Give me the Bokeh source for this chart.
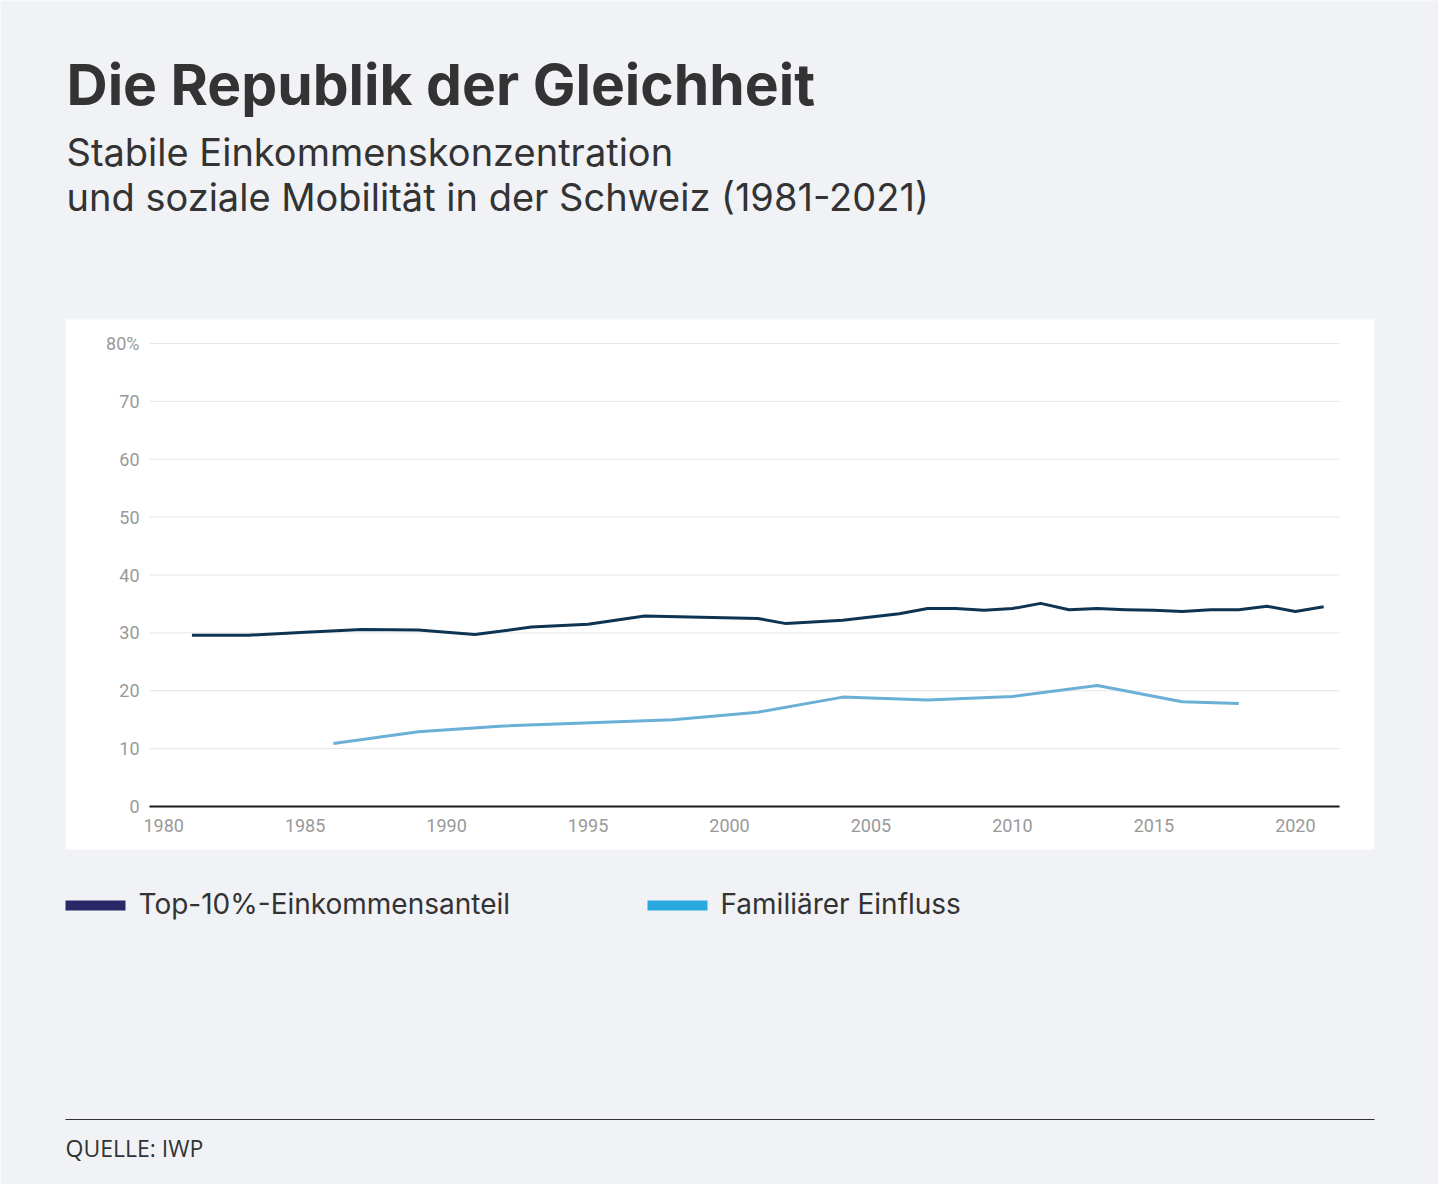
from bokeh.plotting import figure
from bokeh.models import Label, BoxAnnotation, FixedTicker, Range1d, LinearAxis
from bokeh.embed import file_html
from bokeh.resources import INLINE

# ---- data ----
top_years = [1981, 1983, 1985, 1987, 1989, 1991, 1993, 1995, 1997, 2001, 2002, 2004,
             2006, 2007, 2008, 2009, 2010, 2011, 2012, 2013, 2014, 2015, 2016, 2017,
             2018, 2019, 2020, 2021]
top10_share = [29.6, 29.6, 30.1, 30.6, 30.5, 29.7, 31.0, 31.5, 32.9, 32.5, 31.6, 32.2,
               33.3, 34.2, 34.2, 33.9, 34.2, 35.1, 34.0, 34.2, 34.0, 33.9, 33.7, 34.0,
               34.0, 34.6, 33.7, 34.5]
fam_years = [1986, 1989, 1992, 1998, 2001, 2004, 2007, 2010, 2013, 2016, 2018]
family_influence = [10.9, 12.9, 13.9, 15.0, 16.3, 18.9, 18.4, 19.0, 20.9, 18.1, 17.8]

x_ticks = [1980, 1985, 1990, 1995, 2000, 2005, 2010, 2015, 2020]
y_ticks = [0, 10, 20, 30, 40, 50, 60, 70, 80]
y_label_overrides = {80: "80%"}

title_text = "Die Republik der Gleichheit"
subtitle_lines = ["Stabile Einkommenskonzentration",
                  "und soziale Mobilität in der Schweiz (1981-2021)"]
legend_labels = ["Top-10%-Einkommensanteil", "Familiärer Einfluss"]
source_text = "QUELLE: IWP"

# ---- styles / layout constants ----
BG = "#f0f2f6"
DARK_LINE = "#0e3453"
LIGHT_LINE = "#6aafd6"
LEG_DARK = "#2a2766"
LEG_LIGHT = "#2aa9e0"
TEXT = "#333333"
HEAD_FONT = "Inter"

W, H = 1438, 1184
# plotting area (canvas px) and value window it shows
FL, FR, FT, FB = 149, 1339, 343, 806
X0, X1 = 1979.5, 2021.56
Y0, Y1 = 0, 80
kx = (FR - FL) / (X1 - X0)
ky = (FB - FT) / (Y1 - Y0)

p = figure(width=W, height=H, output_backend="svg", toolbar_location=None,
           x_range=Range1d(X0 - FL / kx, X1 + (W - FR) / kx),
           y_range=Range1d(Y0 - (H - FB) / ky, Y1 + FT / ky),
           x_axis_location=None, y_axis_location=None,
           min_border=0, min_border_left=0, min_border_right=0,
           min_border_top=0, min_border_bottom=0)
p.border_fill_color = BG
p.background_fill_color = BG
p.outline_line_color = None
p.grid.visible = False


def cy(y_canvas):
    """canvas y (from top) -> screen units (from bottom)"""
    return H - y_canvas


def base(y_canvas, size):
    # baseline correction for label rendering
    return H - y_canvas + 0.41 * size


# white panel behind the chart
p.add_layout(BoxAnnotation(left=65, right=1374, top=cy(319), bottom=cy(849),
                           left_units="screen", right_units="screen",
                           top_units="screen", bottom_units="screen",
                           fill_color="white", fill_alpha=1.0, line_color=None,
                           level="image"))

# horizontal grid lines
n = len(y_ticks)
p.segment(x0=[X0] * n, x1=[X1] * n, y0=y_ticks, y1=y_ticks,
          line_color="#e6e6e6", line_width=1)

# axes fixed at the chart's edges
yax = LinearAxis(fixed_location=X0, ticker=FixedTicker(ticks=y_ticks))
yax.major_label_overrides = dict(y_label_overrides)
yax.axis_line_color = None
yax.major_label_standoff = 4
xax = LinearAxis(fixed_location=Y0, ticker=FixedTicker(ticks=x_ticks), bounds=(X0, X1))
xax.axis_line_color = "#1a1a1a"
xax.axis_line_width = 2
xax.major_label_standoff = 6
for ax in (xax, yax):
    ax.major_tick_line_color = None
    ax.minor_tick_line_color = None
    ax.major_label_text_font = "Roboto"
    ax.major_label_text_font_size = "18px"
    ax.major_label_text_color = "#999999"
p.add_layout(yax, "left")
p.add_layout(xax, "below")

# data lines
p.line(top_years, top10_share, line_color=DARK_LINE, line_width=3, line_join="round")
p.line(fam_years, family_influence, line_color=LIGHT_LINE, line_width=3, line_join="round")

# title / subtitle
p.add_layout(Label(x=66, y=base(107, 57), x_units="screen", y_units="screen",
                   text=title_text, text_font=HEAD_FONT, text_font_style="bold",
                   text_font_size="57px", text_color=TEXT, text_baseline="alphabetic"))
for i, line in enumerate(subtitle_lines):
    p.add_layout(Label(x=66, y=base(167 + 45 * i, 38), x_units="screen", y_units="screen",
                       text=line, text_font=HEAD_FONT, text_font_size="38px",
                       text_color=TEXT, text_baseline="alphabetic"))

# legend
leg_x = [65, 647]
leg_colors = [LEG_DARK, LEG_LIGHT]
for lx, col, lab in zip(leg_x, leg_colors, legend_labels):
    p.add_layout(BoxAnnotation(left=lx, right=lx + 60, top=cy(900), bottom=cy(910),
                               left_units="screen", right_units="screen",
                               top_units="screen", bottom_units="screen",
                               fill_color=col, fill_alpha=1.0, line_color=None))
    p.add_layout(Label(x=lx + 73, y=base(915, 28), x_units="screen", y_units="screen",
                       text=lab, text_font=HEAD_FONT, text_font_size="28px",
                       text_color=TEXT, text_baseline="alphabetic"))

# source rule and text
p.add_layout(BoxAnnotation(left=65, right=1374, top=cy(1118.5), bottom=cy(1119.5),
                           left_units="screen", right_units="screen",
                           top_units="screen", bottom_units="screen",
                           fill_color="#333333", fill_alpha=1.0, line_color=None))
p.add_layout(Label(x=65, y=base(1157, 23), x_units="screen", y_units="screen",
                   text=source_text, text_font="Open Sans", text_font_size="23px",
                   text_color=TEXT, text_baseline="alphabetic"))

html = file_html(p, INLINE)
html = html.replace("<body>", '<body style="background-color:%s;">' % BG, 1)
open("out.html", "w").write(html)
